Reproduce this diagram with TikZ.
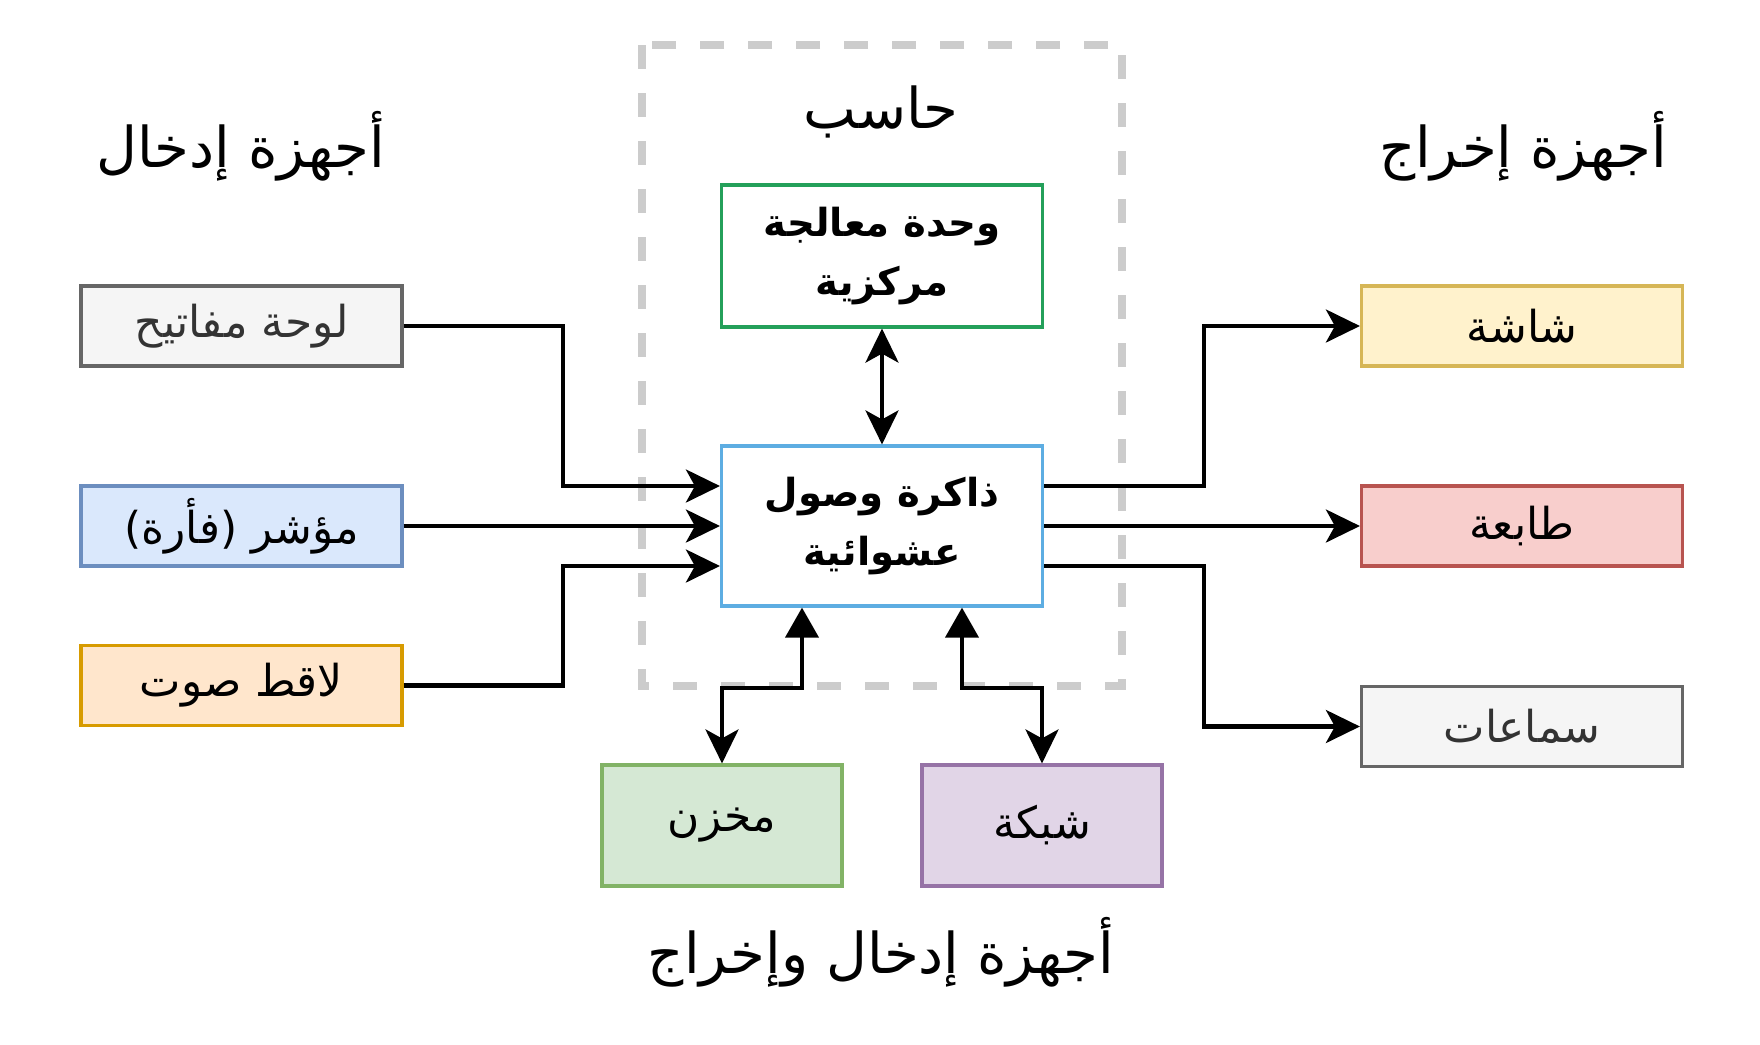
\documentclass[tikz,border=0pt]{standalone}
\usepackage{fontspec}
\usepackage{tikz}
\usetikzlibrary{arrows.meta}
\TeXXeTstate=1
\newfontfamily\arabicfont[Script=Arabic]{DejaVu Sans}
\newcommand{\rtl}[1]{\beginR #1\endR}

\definecolor{greyfill}{HTML}{F5F5F5}
\definecolor{greyline}{HTML}{666666}
\definecolor{greytext}{HTML}{333333}
\definecolor{bluefill}{HTML}{DAE8FC}
\definecolor{blueline}{HTML}{6C8EBF}
\definecolor{orangefill}{HTML}{FFE6CC}
\definecolor{orangeline}{HTML}{D79B00}
\definecolor{yellowfill}{HTML}{FFF2CC}
\definecolor{yellowline}{HTML}{D6B656}
\definecolor{redfill}{HTML}{F8CECC}
\definecolor{redline}{HTML}{B85450}
\definecolor{greenfill}{HTML}{D5E8D4}
\definecolor{greenline}{HTML}{82B366}
\definecolor{purplefill}{HTML}{E1D5E7}
\definecolor{purpleline}{HTML}{9673A6}
\definecolor{cpuline}{HTML}{24A05A}
\definecolor{ramline}{HTML}{5DADE2}
\definecolor{frameline}{HTML}{CCCCCC}

\begin{document}
\begin{tikzpicture}[box/.style = {rectangle, draw, line width=0.9pt, minimum width=3.21cm, minimum height=0.8cm, inner sep=0pt, align=center, font=\arabicfont\fontsize{12.5}{17}\selectfont},
                    core/.style = {box, minimum height=1.42cm, font=\arabicfont\bfseries\fontsize{11}{17}\selectfont},
                    title/.style = {font=\arabicfont\fontsize{16}{20}\selectfont},
                    conn/.style = {line width=1.15pt, -{Stealth[length=3.4mm, width=3.3mm, inset=0.9mm]}},
                    both/.style = {line width=1.15pt, {Stealth[length=3.4mm, width=3.3mm, inset=0.9mm]}-{Stealth[length=3.4mm, width=3.3mm, inset=0.9mm]}},
                    share/.style = {line width=1.15pt, {Triangle[length=3mm, width=3.3mm]}-{Stealth[length=3.4mm, width=3.3mm, inset=0.9mm]}}]
                \useasboundingbox (0,0) rectangle (17.6,-10.44);

                % computer frame
                \draw[frameline, line width=2.2pt, dash pattern=on 2.4mm off 2.4mm] (6.42,-0.45) rectangle (11.22,-6.86);
                \node[title] (pc) at (8.81,-1.12) {\rtl{حاسب}};
                \node[core, draw=cpuline] (cpu) at (8.82,-2.56) {\rtl{وحدة معالجة}\\\rtl{مركزية}};
                \node[core, draw=ramline, minimum height=1.6cm] (ram) at (8.82,-5.26) {\rtl{ذاكرة وصول}\\\rtl{عشوائية}};

                % input side
                \node[title] (intitle) at (2.41,-1.46) {\rtl{أجهزة إدخال}};
                \node[box, fill=greyfill, draw=greyline, text=greytext] (kbd) at (2.415,-3.26) {\rtl{لوحة مفاتيح}};
                \node[box, fill=bluefill, draw=blueline] (mouse) at (2.415,-5.26) {\rtl{مؤشر (فأرة)}};
                \node[box, fill=orangefill, draw=orangeline] (mic) at (2.415,-6.855) {\rtl{لاقط صوت}};

                % output side
                \node[title] (outtitle) at (15.23,-1.46) {\rtl{أجهزة إخراج}};
                \node[box, fill=yellowfill, draw=yellowline] (screen) at (15.22,-3.26) {\rtl{شاشة}};
                \node[box, fill=redfill, draw=redline] (printer) at (15.22,-5.26) {\rtl{طابعة}};
                \node[box, fill=greyfill, draw=greyline, text=greytext] (spk) at (15.22,-7.265) {\rtl{سماعات}};

                % input and output
                \node[box, fill=greenfill, draw=greenline, minimum width=2.4cm, minimum height=1.21cm] (store) at (7.22,-8.255) {\rtl{مخزن}};
                \node[box, fill=purplefill, draw=purpleline, minimum width=2.4cm, minimum height=1.21cm] (net) at (10.42,-8.255) {\rtl{شبكة}};
                \node[title] (iotitle) at (8.81,-9.52) {\rtl{أجهزة إدخال وإخراج}};

                \draw[conn] (kbd.east) -- ++(1.595,0) |- ([yshift=0.4cm]ram.west);
                \draw[conn] (mouse.east) -- (ram.west);
                \draw[conn] (mic.east) -- ++(1.595,0) |- ([yshift=-0.4cm]ram.west);
                \draw[conn] ([yshift=0.4cm]ram.east) -- ++(1.595,0) |- (screen.west);
                \draw[conn] (ram.east) -- (printer.west);
                \draw[conn] ([yshift=-0.4cm]ram.east) -- ++(1.595,0) |- (spk.west);
                \draw[both] (cpu.south) -- (ram.north);
                \draw[share] ([xshift=-0.8cm]ram.south) -- ++(0,-0.8) -| (store.north);
                \draw[share] ([xshift=0.8cm]ram.south) -- ++(0,-0.8) -| (net.north);
            \end{tikzpicture}
\end{document}
